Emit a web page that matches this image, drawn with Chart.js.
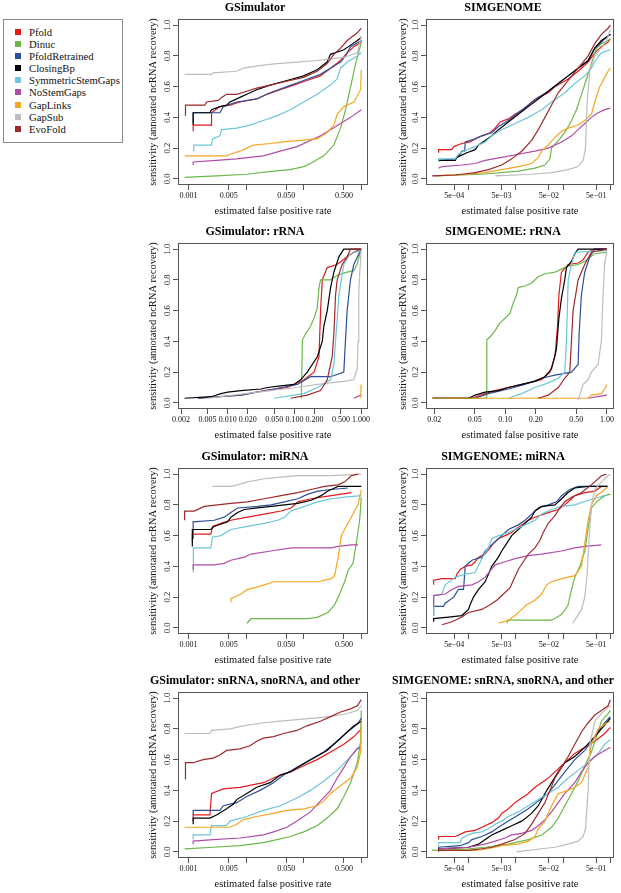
<!DOCTYPE html>
<html>
<head>
<meta charset="utf-8">
<script src="https://cdn.jsdelivr.net/npm/chart.js@4.4.1/dist/chart.umd.min.js"></script>
<style>
  body { margin: 0; width: 621px; height: 893px; position: relative; overflow: hidden; background: #fff; }
  .panel { position: absolute; }
  #legend { position: absolute; left: 3px; top: 19px; width: 120px; height: 124px; box-sizing: border-box;
            border: 1px solid #8a8a8a; padding-top: 5.6px; font-family: 'Liberation Serif', serif; font-size: 10.7px; color: #111; }
  .item { height: 12.16px; display: flex; align-items: center; white-space: nowrap; }
  .sw { flex: 0 0 6px; width: 6px; height: 6px; margin-left: 11px; margin-right: 8px; }
</style>
</head>
<body>
<div id="legend"></div>
<script>
const seriesNames = ['Pfold', 'Dinuc', 'PfoldRetrained', 'ClosingBp', 'SymmetricStemGaps', 'NoStemGaps', 'GapLinks', 'GapSub', 'EvoFold'];
const seriesColors = ['#e31a1c', '#6bb84a', '#2e4f9c', '#000000', '#6cc6d9', '#b24ba8', '#f5a623', '#bdbdbd', '#9e2a2b'];
const yTicks = [0, 0.2, 0.4, 0.6, 0.8, 1.0];

// x tick values and labels
const gsimTicks = [0.001, 0.005, 0.01, 0.05, 0.1, 0.5, 1];
const gsimTickLabels = ['0.001', '0.005', '', '0.050', '', '0.500', ''];
const simgTicks = [0.0005, 0.001, 0.005, 0.01, 0.05, 0.1, 0.5, 1];
const simgTickLabels = ['5e\u221204', '', '5e\u221203', '', '5e\u221202', '', '5e\u221201', ''];
const gsimRrnaTicks = [0.002, 0.005, 0.01, 0.02, 0.05, 0.1, 0.2, 0.5, 1];
const gsimRrnaTickLabels = ['0.002', '0.005', '0.010', '0.020', '0.050', '0.100', '0.200', '0.500', '1.000'];
const simgRrnaTicks = [0.02, 0.05, 0.1, 0.2, 0.5, 1];
const simgRrnaTickLabels = ['0.02', '0.05', '0.10', '0.20', '0.50', '1.00'];

// curves: [false positive rate, sensitivity], one list per series in seriesNames order
const gsimCurves = [
  [[0.00121,0.31],[0.00121,0.35],[0.00252,0.35],[0.00252,0.43],[0.00352,0.47],[0.00526,0.48],[0.00785,0.50],[0.0153,0.52],[0.0229,0.55],[0.0392,0.58],[0.0669,0.61],[0.114,0.64],[0.195,0.67],[0.292,0.72],[0.436,0.77],[0.570,0.82],[0.745,0.86],[1.0,0.89]],
  [[0.00086,0.01],[0.00308,0.02],[0.0103,0.03],[0.030,0.05],[0.0585,0.06],[0.100,0.08],[0.131,0.10],[0.223,0.15],[0.334,0.22],[0.436,0.33],[0.533,0.45],[0.652,0.60],[0.797,0.75],[0.973,0.87],[1.0,0.90]],
  [[0.00121,0.36],[0.00121,0.43],[0.00352,0.43],[0.00403,0.47],[0.00688,0.50],[0.0153,0.52],[0.0262,0.56],[0.0512,0.60],[0.100,0.64],[0.195,0.68],[0.292,0.72],[0.436,0.76],[0.533,0.80],[0.652,0.86],[1.0,0.90]],
  [[0.00121,0.35],[0.00121,0.43],[0.00236,0.43],[0.00252,0.45],[0.00352,0.47],[0.0046,0.48],[0.00526,0.50],[0.00785,0.53],[0.0103,0.55],[0.0153,0.58],[0.0262,0.61],[0.0512,0.64],[0.100,0.67],[0.171,0.71],[0.255,0.76],[0.292,0.81],[0.499,0.84],[0.652,0.87],[0.852,0.90],[1.0,0.92]],
  [[0.00124,0.18],[0.00124,0.22],[0.00252,0.22],[0.00262,0.26],[0.00352,0.28],[0.00376,0.32],[0.00688,0.33],[0.0117,0.35],[0.020,0.38],[0.0343,0.41],[0.0585,0.45],[0.100,0.50],[0.171,0.55],[0.292,0.61],[0.381,0.65],[0.436,0.72],[0.570,0.76],[0.852,0.80],[1.0,0.82]],
  [[0.00121,0.09],[0.00121,0.11],[0.00308,0.12],[0.00688,0.13],[0.020,0.15],[0.0392,0.18],[0.0765,0.21],[0.131,0.25],[0.195,0.28],[0.292,0.32],[0.436,0.36],[0.652,0.40],[1.0,0.45]],
  [[0.00086,0.15],[0.0046,0.15],[0.00526,0.16],[0.00785,0.18],[0.0103,0.20],[0.0134,0.22],[0.0262,0.23],[0.0448,0.24],[0.0875,0.25],[0.171,0.26],[0.255,0.30],[0.334,0.35],[0.381,0.42],[0.499,0.47],[0.745,0.50],[0.973,0.58],[1.0,0.71]],
  [[0.00086,0.68],[0.00252,0.68],[0.00269,0.69],[0.00688,0.70],[0.00898,0.72],[0.020,0.74],[0.0343,0.75],[0.0765,0.76],[0.171,0.77],[0.292,0.78],[0.499,0.79],[0.852,0.82],[1.0,0.93]],
  [[0.00089,0.41],[0.00089,0.48],[0.00193,0.48],[0.00206,0.50],[0.00329,0.51],[0.00376,0.53],[0.0046,0.55],[0.00688,0.55],[0.0103,0.57],[0.0153,0.59],[0.0262,0.61],[0.0448,0.63],[0.100,0.66],[0.171,0.70],[0.255,0.75],[0.334,0.81],[0.436,0.85],[0.570,0.90],[0.852,0.95],[1.0,0.98]]
];

const simgCurves = [
  [[0.000233,0.17],[0.000233,0.19],[0.000446,0.19],[0.000483,0.21],[0.000723,0.23],[0.00108,0.24],[0.00138,0.26],[0.00191,0.28],[0.00286,0.30],[0.00365,0.33],[0.00465,0.37],[0.00697,0.39],[0.00964,0.42],[0.0157,0.46],[0.0216,0.50],[0.0299,0.53],[0.0486,0.56],[0.0672,0.60],[0.128,0.65],[0.208,0.70],[0.339,0.76],[0.468,0.82],[0.647,0.86],[0.894,0.89],[1.0,0.91]],
  [[0.000198,0.02],[0.00191,0.03],[0.0113,0.05],[0.0254,0.07],[0.0413,0.09],[0.0527,0.13],[0.0571,0.20],[0.0856,0.26],[0.118,0.32],[0.151,0.38],[0.192,0.45],[0.245,0.55],[0.313,0.65],[0.398,0.75],[0.508,0.85],[0.647,0.88],[0.894,0.90],[1.0,0.91]],
  [[0.000233,0.12],[0.000524,0.13],[0.000667,0.16],[0.000723,0.18],[0.00083,0.18],[0.000851,0.24],[0.00138,0.26],[0.00191,0.28],[0.0031,0.30],[0.00429,0.34],[0.00697,0.38],[0.0113,0.43],[0.0184,0.48],[0.0299,0.53],[0.0486,0.57],[0.0789,0.62],[0.128,0.67],[0.208,0.72],[0.339,0.77],[0.468,0.85],[0.647,0.89],[0.894,0.93],[1.0,0.94]],
  [[0.000233,0.11],[0.000233,0.12],[0.000524,0.12],[0.000568,0.14],[0.000923,0.17],[0.00138,0.19],[0.00163,0.22],[0.00225,0.25],[0.0031,0.28],[0.00429,0.32],[0.00697,0.37],[0.0113,0.42],[0.0184,0.47],[0.0299,0.52],[0.0486,0.57],[0.0789,0.62],[0.128,0.67],[0.208,0.72],[0.339,0.77],[0.468,0.85],[0.647,0.90],[0.894,0.93],[1.0,0.94]],
  [[0.000233,0.11],[0.000233,0.13],[0.000524,0.13],[0.000615,0.16],[0.000785,0.18],[0.00138,0.21],[0.00225,0.24],[0.0031,0.28],[0.00504,0.32],[0.00964,0.36],[0.0184,0.40],[0.0352,0.45],[0.0571,0.50],[0.109,0.56],[0.177,0.62],[0.288,0.67],[0.398,0.72],[0.508,0.78],[0.647,0.82],[1.0,0.84]],
  [[0.000233,0.07],[0.000274,0.08],[0.000723,0.09],[0.00138,0.10],[0.00225,0.12],[0.00504,0.14],[0.0113,0.16],[0.0254,0.18],[0.0486,0.20],[0.0929,0.24],[0.151,0.28],[0.208,0.32],[0.288,0.36],[0.398,0.40],[0.551,0.43],[0.761,0.45],[1.0,0.46]],
  [[0.000198,0.02],[0.000851,0.03],[0.00225,0.04],[0.00504,0.06],[0.0113,0.08],[0.0216,0.10],[0.0299,0.14],[0.0352,0.18],[0.0486,0.22],[0.0672,0.27],[0.0929,0.31],[0.128,0.33],[0.208,0.35],[0.288,0.38],[0.398,0.42],[0.468,0.50],[0.597,0.60],[0.761,0.66],[0.894,0.70],[1.0,0.72]],
  [[0.00365,0.02],[0.0216,0.03],[0.0571,0.04],[0.128,0.06],[0.208,0.08],[0.265,0.12],[0.298,0.20],[0.323,0.50],[0.367,0.70],[0.468,0.80],[0.647,0.85],[0.825,0.90],[1.0,0.97]],
  [[0.000169,0.02],[0.000524,0.025],[0.00138,0.04],[0.00264,0.06],[0.00504,0.09],[0.00819,0.13],[0.0133,0.18],[0.0216,0.25],[0.0299,0.32],[0.0413,0.40],[0.0571,0.48],[0.0789,0.56],[0.128,0.64],[0.208,0.72],[0.339,0.80],[0.468,0.88],[0.647,0.94],[0.894,0.98],[1.0,1.0]]
];

const gsimRrna = [
  [[0.00357,0.03],[0.0158,0.05],[0.0353,0.08],[0.0787,0.10],[0.139,0.15],[0.197,0.20],[0.234,0.30],[0.247,0.60],[0.262,0.80],[0.311,0.88],[0.438,0.90],[0.618,0.95],[0.778,0.98],[1.0,1.0]],
  [[0.127,0.03],[0.132,0.41],[0.148,0.45],[0.175,0.50],[0.197,0.55],[0.221,0.62],[0.234,0.75],[0.247,0.80],[0.349,0.80],[0.438,0.83],[0.618,0.85],[0.778,0.86],[0.872,0.90],[1.0,1.0]],
  [[0.00357,0.03],[0.0158,0.05],[0.0497,0.09],[0.111,0.12],[0.175,0.17],[0.349,0.17],[0.551,0.20],[0.583,0.40],[0.618,0.60],[0.693,0.80],[0.778,0.90],[1.0,1.0]],
  [[0.00226,0.03],[0.00563,0.04],[0.00795,0.06],[0.0100,0.07],[0.0158,0.08],[0.0315,0.09],[0.0396,0.10],[0.0625,0.11],[0.0989,0.12],[0.124,0.15],[0.156,0.20],[0.221,0.30],[0.262,0.40],[0.277,0.50],[0.311,0.60],[0.349,0.75],[0.391,0.85],[0.465,0.95],[0.551,1.0],[1.0,1.0]],
  [[0.0497,0.03],[0.139,0.06],[0.221,0.10],[0.349,0.15],[0.391,0.25],[0.414,0.40],[0.465,0.70],[0.551,0.90],[0.693,0.97],[1.0,0.99]],
  [[0.778,0.03],[1.0,0.05]],
  [[0.99,0.03],[1.0,0.12]],
  [[0.00502,0.03],[0.0281,0.07],[0.0701,0.09],[0.111,0.10],[0.221,0.12],[0.349,0.13],[0.551,0.14],[0.778,0.15],[0.872,0.22],[0.902,0.40],[0.923,0.70],[0.955,0.85],[1.0,0.98]],
  [[0.0882,0.03],[0.156,0.05],[0.247,0.08],[0.311,0.15],[0.369,0.30],[0.391,0.45],[0.414,0.70],[0.438,0.80],[0.520,0.90],[0.618,0.95],[0.693,1.0],[1.0,1.0]]
];

const simgRrna = [
  [[0.0193,0.03],[0.0469,0.03],[0.0633,0.06],[0.0794,0.08],[0.107,0.10],[0.145,0.12],[0.228,0.15],[0.275,0.20],[0.308,0.30],[0.327,0.50],[0.337,0.70],[0.357,0.85],[0.416,0.90],[0.521,0.91],[0.583,0.93],[0.653,0.98],[0.759,1.0],[1.0,1.0]],
  [[0.0193,0.03],[0.0648,0.03],[0.0658,0.41],[0.0709,0.43],[0.0794,0.47],[0.0889,0.52],[0.0995,0.55],[0.111,0.58],[0.120,0.65],[0.129,0.70],[0.134,0.75],[0.156,0.76],[0.182,0.78],[0.211,0.82],[0.245,0.84],[0.308,0.85],[0.357,0.87],[0.416,0.89],[0.521,0.90],[0.605,0.92],[0.759,0.97],[1.0,0.98]],
  [[0.0193,0.03],[0.0505,0.03],[0.0683,0.06],[0.107,0.09],[0.156,0.12],[0.228,0.16],[0.308,0.18],[0.448,0.20],[0.521,0.25],[0.533,0.45],[0.561,0.70],[0.605,0.85],[0.678,0.95],[0.759,1.0],[1.0,1.0]],
  [[0.0193,0.03],[0.0435,0.03],[0.0505,0.05],[0.0633,0.07],[0.0856,0.08],[0.107,0.10],[0.145,0.12],[0.196,0.14],[0.245,0.17],[0.285,0.22],[0.319,0.35],[0.337,0.55],[0.357,0.68],[0.385,0.80],[0.400,0.88],[0.448,0.92],[0.483,0.97],[0.521,1.0],[1.0,1.0]],
  [[0.107,0.03],[0.145,0.06],[0.196,0.10],[0.265,0.13],[0.332,0.16],[0.385,0.20],[0.400,0.40],[0.416,0.80],[0.448,0.90],[0.483,0.98],[1.0,0.99]],
  [[0.653,0.03],[0.818,0.04],[1.0,0.05]],
  [[0.0193,0.03],[0.653,0.03],[0.704,0.05],[0.882,0.06],[0.951,0.09],[1.0,0.12]],
  [[0.521,0.02],[0.541,0.05],[0.583,0.12],[0.653,0.15],[0.704,0.20],[0.818,0.25],[0.882,0.40],[0.916,0.70],[0.951,0.90],[1.0,1.0]],
  [[0.211,0.03],[0.265,0.05],[0.332,0.10],[0.385,0.16],[0.431,0.20],[0.448,0.40],[0.465,0.60],[0.521,0.80],[0.605,0.90],[0.704,0.98],[1.0,1.0]]
];

const gsimMirna = [
  [[0.00117,0.56],[0.00117,0.61],[0.00245,0.61],[0.00262,0.66],[0.00366,0.68],[0.00546,0.70],[0.0106,0.72],[0.0207,0.74],[0.0405,0.76],[0.0605,0.78],[0.0791,0.82],[0.135,0.84],[0.301,0.86],[0.449,0.87],[0.670,0.88]],
  [[0.0104,0.03],[0.0122,0.06],[0.118,0.06],[0.176,0.07],[0.263,0.10],[0.344,0.15],[0.420,0.22],[0.513,0.30],[0.586,0.37],[0.716,0.42],[0.818,0.55],[0.935,0.70],[1.0,0.85]],
  [[0.00121,0.58],[0.00121,0.69],[0.00280,0.70],[0.00418,0.72],[0.00546,0.75],[0.00713,0.78],[0.0159,0.79],[0.0271,0.80],[0.0463,0.82],[0.0791,0.84],[0.118,0.87],[0.176,0.89],[0.301,0.90],[0.586,0.91]],
  [[0.00117,0.53],[0.00117,0.64],[0.00245,0.64],[0.00280,0.66],[0.00478,0.69],[0.00546,0.72],[0.00713,0.75],[0.00931,0.77],[0.0159,0.78],[0.0271,0.79],[0.0463,0.80],[0.0791,0.81],[0.135,0.83],[0.201,0.86],[0.263,0.89],[0.344,0.91],[0.393,0.92],[1.0,0.92]],
  [[0.00122,0.36],[0.00122,0.52],[0.00245,0.52],[0.00262,0.59],[0.00366,0.60],[0.00546,0.64],[0.0106,0.66],[0.0207,0.68],[0.0355,0.70],[0.0463,0.72],[0.0605,0.76],[0.103,0.79],[0.176,0.82],[0.301,0.84],[0.513,0.85],[1.0,0.86]],
  [[0.00121,0.38],[0.00121,0.41],[0.00280,0.41],[0.00418,0.42],[0.00546,0.44],[0.00931,0.46],[0.0122,0.48],[0.0271,0.50],[0.0605,0.52],[0.301,0.52],[0.393,0.53],[0.670,0.54],[0.875,0.54]],
  [[0.00531,0.17],[0.00546,0.19],[0.00815,0.22],[0.0106,0.25],[0.0139,0.26],[0.0207,0.28],[0.0310,0.30],[0.176,0.30],[0.301,0.32],[0.344,0.34],[0.393,0.45],[0.449,0.60],[0.586,0.68],[0.670,0.72],[0.875,0.80],[1.0,0.90]],
  [[0.00262,0.92],[0.00546,0.92],[0.00713,0.93],[0.0106,0.95],[0.0207,0.97],[0.0405,0.98],[0.0791,0.99],[0.301,0.99],[1.0,1.0]],
  [[0.00086,0.70],[0.00086,0.76],[0.00126,0.76],[0.00188,0.79],[0.00320,0.80],[0.00546,0.81],[0.0106,0.82],[0.0207,0.84],[0.0405,0.86],[0.0791,0.88],[0.135,0.90],[0.230,0.92],[0.393,0.93],[0.513,0.95],[0.670,0.99],[0.875,1.0]]
];

const simgMirna = [
  [[0.000183,0.28],[0.000183,0.31],[0.000274,0.32],[0.000524,0.32],[0.000568,0.35],[0.000667,0.38],[0.000851,0.40],[0.00118,0.41],[0.00138,0.43],[0.00163,0.46],[0.00225,0.48],[0.00286,0.52],[0.00337,0.55],[0.00429,0.58],[0.00593,0.60],[0.00819,0.62],[0.00964,0.64],[0.0133,0.67],[0.0184,0.70],[0.0254,0.72],[0.0486,0.75],[0.0789,0.77],[0.109,0.80],[0.151,0.84],[0.177,0.86],[0.288,0.88],[0.468,0.89],[0.647,0.92]],
  [[0.00643,0.03],[0.00697,0.05],[0.0571,0.05],[0.0856,0.08],[0.101,0.10],[0.128,0.15],[0.151,0.25],[0.177,0.33],[0.226,0.40],[0.288,0.50],[0.339,0.65],[0.398,0.78],[0.508,0.82],[0.761,0.86],[1.0,0.87]],
  [[0.000183,0.08],[0.000183,0.14],[0.000297,0.14],[0.000322,0.16],[0.000483,0.20],[0.000615,0.25],[0.000785,0.25],[0.000851,0.40],[0.00118,0.44],[0.00191,0.46],[0.00225,0.50],[0.00337,0.55],[0.00396,0.57],[0.00504,0.60],[0.00697,0.64],[0.0113,0.67],[0.0157,0.70],[0.0216,0.74],[0.0299,0.78],[0.0486,0.80],[0.0728,0.82],[0.0929,0.86],[0.139,0.90],[0.208,0.92],[0.894,0.92]],
  [[0.000183,0.04],[0.000183,0.06],[0.000379,0.07],[0.000723,0.08],[0.00100,0.12],[0.00108,0.15],[0.00127,0.20],[0.00163,0.25],[0.00225,0.30],[0.00264,0.35],[0.00310,0.40],[0.00429,0.46],[0.00504,0.50],[0.00643,0.55],[0.00819,0.60],[0.0113,0.64],[0.0157,0.68],[0.0216,0.72],[0.0254,0.76],[0.0352,0.79],[0.0672,0.80],[0.0929,0.84],[0.128,0.88],[0.177,0.91],[0.339,0.92],[0.894,0.92]],
  [[0.000183,0.08],[0.000183,0.21],[0.000274,0.22],[0.000322,0.28],[0.000524,0.33],[0.000851,0.35],[0.00138,0.36],[0.00191,0.45],[0.00264,0.52],[0.00310,0.58],[0.00429,0.60],[0.00697,0.62],[0.0113,0.65],[0.0184,0.68],[0.0254,0.70],[0.0352,0.74],[0.0571,0.77],[0.0929,0.79],[0.177,0.80],[0.339,0.83],[0.761,0.86]],
  [[0.000183,0.14],[0.000183,0.21],[0.000322,0.22],[0.000446,0.25],[0.000615,0.27],[0.00118,0.28],[0.00163,0.30],[0.00225,0.33],[0.00286,0.37],[0.00365,0.41],[0.00593,0.43],[0.00964,0.45],[0.0184,0.47],[0.0352,0.48],[0.0929,0.50],[0.177,0.52],[0.288,0.53],[0.647,0.54]],
  [[0.00429,0.03],[0.00697,0.05],[0.00964,0.08],[0.0133,0.12],[0.0170,0.15],[0.0254,0.18],[0.0352,0.22],[0.0448,0.28],[0.0571,0.30],[0.0929,0.32],[0.177,0.34],[0.245,0.40],[0.288,0.55],[0.339,0.70],[0.398,0.80],[0.508,0.86],[0.761,0.90],[0.894,0.92]],
  [[0.158,0.03],[0.177,0.05],[0.245,0.12],[0.288,0.20],[0.323,0.35],[0.350,0.55],[0.398,0.80],[0.468,0.90],[0.647,0.95],[0.894,0.99],[1.0,1.0]],
  [[0.000274,0.02],[0.000446,0.04],[0.000723,0.07],[0.00100,0.10],[0.00191,0.12],[0.00286,0.15],[0.00396,0.18],[0.00547,0.22],[0.00755,0.26],[0.00888,0.31],[0.0113,0.38],[0.0144,0.43],[0.0184,0.48],[0.0254,0.52],[0.0324,0.57],[0.0381,0.62],[0.0486,0.68],[0.0672,0.73],[0.0856,0.78],[0.109,0.82],[0.151,0.85],[0.245,0.88],[0.398,0.93],[0.647,0.99],[0.825,1.0]]
];

const gsimSnrna = [
  [[0.00121,0.20],[0.00121,0.24],[0.00236,0.24],[0.00252,0.38],[0.00403,0.41],[0.00785,0.42],[0.020,0.45],[0.0343,0.49],[0.0585,0.52],[0.100,0.56],[0.171,0.60],[0.292,0.65],[0.499,0.70],[0.745,0.75],[1.0,0.80]],
  [[0.00086,0.02],[0.00269,0.03],[0.00785,0.04],[0.020,0.06],[0.0343,0.08],[0.0585,0.10],[0.100,0.13],[0.171,0.17],[0.255,0.22],[0.381,0.28],[0.499,0.36],[0.652,0.45],[0.852,0.58],[0.973,0.72],[1.0,0.92]],
  [[0.00121,0.24],[0.00121,0.27],[0.00352,0.27],[0.00403,0.30],[0.00688,0.32],[0.0103,0.36],[0.0175,0.40],[0.030,0.45],[0.0448,0.50],[0.0765,0.55],[0.131,0.60],[0.223,0.65],[0.381,0.72],[0.570,0.78],[0.852,0.83],[1.0,0.87]],
  [[0.00121,0.18],[0.00121,0.22],[0.00236,0.22],[0.00308,0.24],[0.0046,0.28],[0.0060,0.31],[0.00688,0.34],[0.0103,0.38],[0.0153,0.42],[0.0262,0.45],[0.0392,0.50],[0.0585,0.52],[0.0875,0.56],[0.150,0.61],[0.255,0.66],[0.381,0.72],[0.570,0.78],[0.745,0.82],[1.0,0.85]],
  [[0.00121,0.08],[0.00121,0.11],[0.00236,0.11],[0.00252,0.17],[0.0046,0.17],[0.00526,0.20],[0.0103,0.23],[0.020,0.27],[0.0392,0.30],[0.0765,0.35],[0.131,0.40],[0.223,0.46],[0.381,0.53],[0.652,0.62],[0.973,0.70],[1.0,0.72]],
  [[0.00121,0.05],[0.00121,0.07],[0.00269,0.08],[0.00785,0.09],[0.020,0.11],[0.030,0.13],[0.0512,0.16],[0.0765,0.20],[0.131,0.26],[0.195,0.33],[0.292,0.40],[0.381,0.48],[0.499,0.55],[0.652,0.62],[0.852,0.67],[1.0,0.68]],
  [[0.00086,0.16],[0.00526,0.16],[0.00688,0.18],[0.00898,0.21],[0.0153,0.23],[0.030,0.25],[0.0512,0.27],[0.100,0.28],[0.171,0.30],[0.223,0.33],[0.292,0.38],[0.436,0.43],[0.652,0.48],[0.852,0.55],[0.973,0.65],[1.0,0.85]],
  [[0.00086,0.77],[0.00236,0.77],[0.00252,0.79],[0.00526,0.80],[0.00898,0.82],[0.020,0.84],[0.0392,0.85],[0.0765,0.86],[0.150,0.87],[0.292,0.88],[0.570,0.90],[0.852,0.92],[1.0,0.95]],
  [[0.00089,0.47],[0.00089,0.58],[0.00121,0.58],[0.0018,0.60],[0.00269,0.61],[0.00352,0.63],[0.0046,0.66],[0.00785,0.67],[0.0117,0.69],[0.0153,0.72],[0.020,0.74],[0.030,0.75],[0.0448,0.77],[0.0765,0.79],[0.114,0.82],[0.195,0.85],[0.292,0.88],[0.436,0.91],[0.652,0.93],[0.852,0.95],[1.0,0.99]]
];

const simgSnrna = [
  [[0.000233,0.08],[0.000233,0.10],[0.000524,0.10],[0.000615,0.11],[0.000851,0.13],[0.00138,0.14],[0.00191,0.16],[0.00310,0.19],[0.00429,0.22],[0.00504,0.25],[0.00697,0.28],[0.00964,0.32],[0.0133,0.35],[0.0184,0.38],[0.0254,0.42],[0.0352,0.45],[0.0486,0.48],[0.0672,0.52],[0.0929,0.56],[0.128,0.60],[0.177,0.64],[0.288,0.68],[0.468,0.72],[0.761,0.77],[1.0,0.81]],
  [[0.000169,0.01],[0.00100,0.02],[0.00225,0.03],[0.00697,0.05],[0.0184,0.08],[0.0352,0.11],[0.0571,0.16],[0.0789,0.22],[0.109,0.30],[0.151,0.38],[0.208,0.46],[0.288,0.56],[0.398,0.65],[0.508,0.75],[0.647,0.85],[0.894,0.90],[1.0,0.92]],
  [[0.000233,0.02],[0.000233,0.03],[0.000667,0.04],[0.00100,0.06],[0.00118,0.08],[0.00191,0.10],[0.00310,0.13],[0.00429,0.16],[0.00697,0.20],[0.0113,0.24],[0.0184,0.28],[0.0299,0.33],[0.0486,0.38],[0.0728,0.45],[0.109,0.52],[0.177,0.60],[0.288,0.66],[0.398,0.72],[0.551,0.78],[0.761,0.84],[1.0,0.88]],
  [[0.000233,0.01],[0.000233,0.02],[0.00100,0.03],[0.00163,0.05],[0.00225,0.08],[0.00310,0.11],[0.00504,0.14],[0.00819,0.17],[0.0133,0.20],[0.0216,0.25],[0.0299,0.30],[0.0413,0.38],[0.0571,0.45],[0.0789,0.52],[0.109,0.58],[0.177,0.62],[0.288,0.68],[0.468,0.75],[0.647,0.80],[0.894,0.85],[1.0,0.87]],
  [[0.000233,0.04],[0.000233,0.06],[0.000667,0.06],[0.000723,0.09],[0.00118,0.12],[0.00191,0.13],[0.00264,0.15],[0.00365,0.18],[0.00504,0.20],[0.00697,0.23],[0.0113,0.26],[0.0184,0.30],[0.0299,0.34],[0.0486,0.38],[0.0789,0.42],[0.128,0.48],[0.208,0.53],[0.339,0.58],[0.551,0.64],[0.761,0.70],[1.0,0.73]],
  [[0.000233,0.02],[0.00100,0.03],[0.00225,0.05],[0.00365,0.07],[0.00593,0.09],[0.00819,0.11],[0.0133,0.12],[0.0216,0.14],[0.0299,0.17],[0.0413,0.21],[0.0571,0.26],[0.0789,0.32],[0.109,0.38],[0.177,0.45],[0.245,0.52],[0.339,0.58],[0.468,0.62],[0.761,0.66],[1.0,0.68]],
  [[0.000233,0.0],[0.000233,0.01],[0.00138,0.01],[0.00264,0.02],[0.00504,0.04],[0.0113,0.05],[0.0184,0.07],[0.0254,0.10],[0.0299,0.15],[0.0413,0.20],[0.0571,0.30],[0.0789,0.38],[0.128,0.40],[0.177,0.42],[0.245,0.45],[0.339,0.55],[0.398,0.70],[0.551,0.80],[0.761,0.83],[1.0,0.85]],
  [[0.0104,0.0],[0.0184,0.01],[0.0352,0.02],[0.0672,0.03],[0.128,0.05],[0.208,0.07],[0.265,0.10],[0.298,0.15],[0.339,0.40],[0.367,0.70],[0.468,0.85],[0.647,0.90],[0.825,0.93],[1.0,0.95]],
  [[0.000233,0.0],[0.000233,0.01],[0.00100,0.01],[0.00191,0.02],[0.00310,0.03],[0.00504,0.05],[0.00964,0.08],[0.0157,0.12],[0.0216,0.18],[0.0299,0.25],[0.0413,0.32],[0.0527,0.40],[0.0672,0.48],[0.0929,0.55],[0.128,0.62],[0.177,0.70],[0.245,0.78],[0.339,0.84],[0.468,0.89],[0.647,0.92],[0.894,0.95],[1.0,0.99]]
];

const serif = "'Liberation Serif', 'Times New Roman', serif";

// panel layout: canvas position / size and x range of each plot
const panels = [
  { title: 'GSimulator', curves: gsimCurves, ticks: gsimTicks, labels: gsimTickLabels, xmin: 0.00066, xmax: 1.306, x: 142, y: 0, w: 233, yw: 36 },
  { title: 'SIMGENOME', curves: simgCurves, ticks: simgTicks, labels: simgTickLabels, xmin: 0.000126, xmax: 1.194, x: 392, y: 0, w: 229, yw: 34 },
  { title: 'GSimulator: rRNA', curves: gsimRrna, ticks: gsimRrnaTicks, labels: gsimRrnaTickLabels, xmin: 0.0018, xmax: 1.27, x: 142, y: 224, w: 233, yw: 36 },
  { title: 'SIMGENOME: rRNA', curves: simgRrna, ticks: simgRrnaTicks, labels: simgRrnaTickLabels, xmin: 0.0166, xmax: 1.175, x: 392, y: 224, w: 229, yw: 34 },
  { title: 'GSimulator: miRNA', curves: gsimMirna, ticks: gsimTicks, labels: gsimTickLabels, xmin: 0.00066, xmax: 1.306, x: 142, y: 449, w: 233, yw: 36 },
  { title: 'SIMGENOME: miRNA', curves: simgMirna, ticks: simgTicks, labels: simgTickLabels, xmin: 0.000126, xmax: 1.194, x: 392, y: 449, w: 229, yw: 34 },
  { title: 'GSimulator: snRNA, snoRNA, and other', curves: gsimSnrna, ticks: gsimTicks, labels: gsimTickLabels, xmin: 0.00066, xmax: 1.306, x: 142, y: 673, w: 233, yw: 36 },
  { title: 'SIMGENOME: snRNA, snoRNA, and other', curves: simgSnrna, ticks: simgTicks, labels: simgTickLabels, xmin: 0.000126, xmax: 1.194, x: 392, y: 673, w: 229, yw: 34 }
];

// legend
const legend = document.getElementById('legend');
seriesNames.forEach((name, i) => {
  const row = document.createElement('div');
  row.className = 'item';
  row.innerHTML = `<span class="sw" style="background:${seriesColors[i]}"></span>${name}`;
  legend.appendChild(row);
});

// R-style box around the plot region
const boxPlugin = {
  id: 'plotBox',
  afterDraw(chart) {
    const { ctx, chartArea: a } = chart;
    ctx.save();
    ctx.strokeStyle = '#555';
    ctx.lineWidth = 1;
    ctx.strokeRect(Math.round(a.left) + 0.5, Math.round(a.top) + 0.5, Math.round(a.width) - 1, Math.round(a.height) - 1);
    ctx.restore();
  }
};

function drawPanel(p) {
  const canvas = document.createElement('canvas');
  canvas.className = 'panel';
  canvas.width = p.w;
  canvas.height = 221;
  canvas.style.left = p.x + 'px';
  canvas.style.top = p.y + 'px';
  document.body.appendChild(canvas);

  new Chart(canvas, {
    type: 'line',
    data: {
      datasets: p.curves.map((pts, i) => ({
        label: seriesNames[i],
        data: pts,
        borderColor: seriesColors[i],
        borderWidth: 1.2,
        pointRadius: 0,
        tension: 0,
        fill: false,
        order: seriesNames.length - i
      }))
    },
    options: {
      responsive: false,
      animation: false,
      layout: { padding: { left: 0, right: 7, top: 0, bottom: 0 } },
      plugins: {
        legend: { display: false },
        tooltip: { enabled: false },
        title: {
          display: true, text: p.title, color: '#000',
          font: { family: serif, size: 12, weight: 'bold', lineHeight: 1 },
          padding: { top: 1.5, bottom: 5.5 }
        }
      },
      scales: {
        x: {
          type: 'logarithmic', min: p.xmin, max: p.xmax, bounds: 'data',
          afterBuildTicks: s => { s.ticks = p.ticks.map(v => ({ value: v })); },
          afterFit: s => { s.height = 36; s.paddingLeft = 0; s.paddingRight = 0; },
          ticks: {
            autoSkip: false, minRotation: 0, maxRotation: 0, padding: 1.5, color: '#111',
            font: { family: serif, size: 8 },
            callback: (v, i) => p.labels[i]
          },
          grid: { drawOnChartArea: false, drawTicks: true, tickLength: 5, color: '#555' },
          border: { display: false },
          title: {
            display: true, text: 'estimated false positive rate', color: '#111',
            font: { family: serif, size: 10.5, lineHeight: 1.2 }, padding: { top: 0, bottom: 3.7 }
          }
        },
        y: {
          min: -0.04, max: 1.04, bounds: 'data',
          afterBuildTicks: s => { s.ticks = yTicks.map(v => ({ value: v })); },
          afterFit: s => { s.width = p.yw; s.paddingTop = 0; s.paddingBottom = 0; },
          ticks: {
            minRotation: 90, maxRotation: 90, crossAlign: 'center', padding: 0, color: '#111',
            font: { family: serif, size: 8.5 },
            callback: v => v.toFixed(1)
          },
          grid: { drawOnChartArea: false, drawTicks: true, tickLength: 5, color: '#555' },
          border: { display: false },
          title: {
            display: true, text: 'sensitivity (annotated ncRNA recovery)', color: '#111',
            font: { family: serif, size: 10.5, lineHeight: 1.2 }, padding: { top: 4.8, bottom: 0 }
          }
        }
      }
    },
    plugins: [boxPlugin]
  });
}

panels.forEach(drawPanel);
</script>
</body>
</html>
